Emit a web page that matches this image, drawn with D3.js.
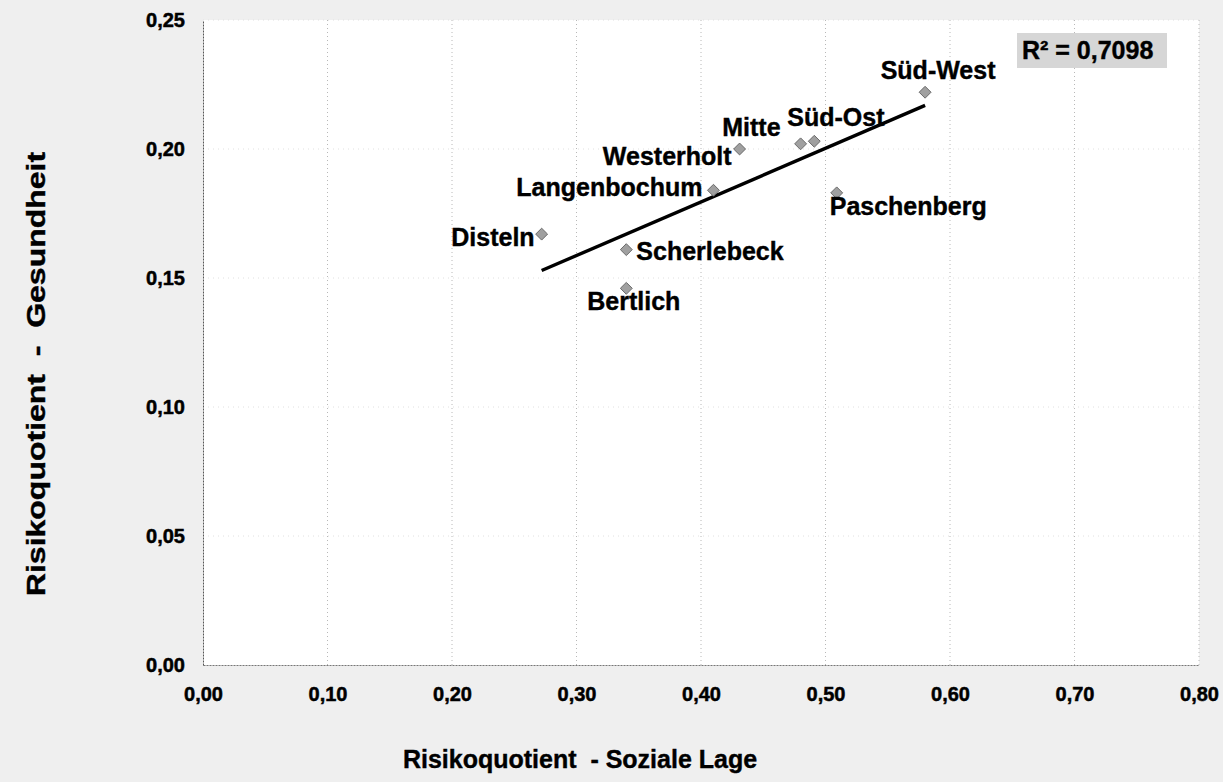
<!DOCTYPE html>
<html><head><meta charset="utf-8">
<script src="https://cdn.jsdelivr.net/npm/d3@7/dist/d3.min.js"></script>
<style>
html,body{margin:0;padding:0;background:#efefef;}
svg{display:block;font-family:"Liberation Sans",Arial,sans-serif;}
</style></head>
<body>
<svg id="chart" width="1223" height="782"></svg>
<script>
// ---- data ----
const names   = ["Disteln","Scherlebeck","Bertlich","Westerholt","Langenbochum","Mitte","Süd-Ost","Paschenberg","Süd-West"];
const xValues = [0.272, 0.340, 0.340, 0.431, 0.410, 0.480, 0.491, 0.509, 0.580];
const yValues = [0.167, 0.161, 0.146, 0.200, 0.184, 0.202, 0.203, 0.183, 0.222];
const xTicks  = [0,0.1,0.2,0.3,0.4,0.5,0.6,0.7,0.8];
const yTicks  = [0,0.05,0.10,0.15,0.20,0.25];
const rSquaredText = "R² = 0,7098";
const xTitle = "Risikoquotient  - Soziale Lage";
const yTitle = "Risikoquotient  -  Gesundheit";

// ---- layout ----
const svg = d3.select("#chart");
const L = 203, R = 1199, T = 20, B = 665;
const x = d3.scaleLinear().domain([0,0.8]).range([L,R]);
const y = d3.scaleLinear().domain([0,0.25]).range([B,T]);
const fmt = d3.format(".2f");
const comma = v => fmt(v).replace(".", ",");
const FONT = "'Liberation Sans',Arial,sans-serif";

svg.append("rect").attr("width",1223).attr("height",782).attr("fill","#efefef");
svg.append("rect").attr("x",L).attr("y",T).attr("width",R-L).attr("height",B-T).attr("fill","#ffffff");

// gridlines
svg.append("g").selectAll("line").data(xTicks.slice(1)).join("line")
  .attr("x1",d=>x(d)).attr("x2",d=>x(d)).attr("y1",T).attr("y2",B)
  .attr("stroke","#b8b8b8").attr("stroke-width",1).attr("stroke-dasharray","1,3");
svg.append("g").selectAll("line").data(yTicks.slice(1)).join("line")
  .attr("x1",L).attr("x2",R).attr("y1",d=>y(d)).attr("y2",d=>y(d))
  .attr("stroke","#e0e0e0").attr("stroke-width",1).attr("stroke-dasharray","1,4");

// axes
const xAxis = d3.axisBottom(x).tickValues(xTicks).tickFormat(comma).tickSize(0).tickPadding(22);
const gx = svg.append("g").attr("transform",`translate(0,${B})`).call(xAxis);
gx.select(".domain").attr("stroke","#777").attr("stroke-dasharray","2,1");
gx.selectAll("text").attr("font-size",20).attr("font-weight","bold").attr("fill","#000")
  .attr("stroke","#000").attr("stroke-width",0.5).attr("font-family",FONT);

const yAxis = d3.axisLeft(y).tickValues(yTicks).tickFormat(comma).tickSize(0).tickPadding(18);
const gy = svg.append("g").attr("transform",`translate(${L},0)`).call(yAxis);
gy.select(".domain").attr("stroke","#555").attr("stroke-dasharray","2,1");
gy.selectAll("text").attr("font-size",20).attr("font-weight","bold").attr("fill","#000")
  .attr("stroke","#000").attr("stroke-width",0.5).attr("font-family",FONT);

// regression line (least squares from data)
const n = xValues.length;
const mx = d3.mean(xValues), my = d3.mean(yValues);
let sxy = 0, sxx = 0;
for (let i=0;i<n;i++){ sxy += (xValues[i]-mx)*(yValues[i]-my); sxx += (xValues[i]-mx)**2; }
const slope = sxy/sxx, icpt = my - slope*mx;
const x0 = d3.min(xValues), x1 = d3.max(xValues);
svg.append("line")
  .attr("x1",x(x0)).attr("y1",y(icpt+slope*x0))
  .attr("x2",x(x1)).attr("y2",y(icpt+slope*x1))
  .attr("stroke","#000").attr("stroke-width",3.4);

// markers
const pts = names.map((nm,i)=>({name:nm,x:xValues[i],y:yValues[i]}));
svg.append("g").selectAll("path").data(pts).join("path")
  .attr("d", d3.symbol().type(d3.symbolDiamond2).size(90))
  .attr("transform", d=>`translate(${x(d.x)},${y(d.y)})`)
  .attr("fill","#a0a0a0").attr("stroke","#6a6a6a").attr("stroke-width",1);

// label placement (anchor, dx, dy) in px
const place = {
  "Süd-West":["middle",13,-13],
  "Mitte":["end",-20,-8],
  "Süd-Ost":["start",-27,-15],
  "Westerholt":["end",-8,16],
  "Langenbochum":["end",-11,6],
  "Paschenberg":["start",-7,22],
  "Disteln":["end",-7,12],
  "Scherlebeck":["start",10,10],
  "Bertlich":["start",-39,22]
};
svg.append("g").selectAll("text").data(pts).join("text")
  .attr("x",d=>x(d.x)+place[d.name][1]).attr("y",d=>y(d.y)+place[d.name][2])
  .attr("text-anchor",d=>place[d.name][0])
  .attr("font-size",25).attr("font-weight","bold").attr("fill","#000")
  .attr("stroke","#000").attr("stroke-width",0.4)
  .text(d=>d.name);

// R² box
svg.append("rect").attr("x",1017).attr("y",33).attr("width",150).attr("height",35).attr("fill","#d6d6d6");
svg.append("text").attr("x",1022).attr("y",59).attr("font-size",25).attr("font-weight","bold")
  .attr("fill","#000").attr("stroke","#000").attr("stroke-width",0.4).text(rSquaredText);

// axis titles
svg.append("text").attr("x",580).attr("y",768).attr("text-anchor","middle")
  .attr("font-size",25).attr("font-weight","bold").attr("fill","#000")
  .attr("stroke","#000").attr("stroke-width",0.4)
  .style("white-space","pre").text(xTitle);
svg.append("text").attr("transform","translate(45,374) rotate(-90) scale(1.28,1)").attr("text-anchor","middle")
  .attr("font-size",25).attr("font-weight","bold").attr("fill","#000")
  .attr("stroke","#000").attr("stroke-width",0.4)
  .style("white-space","pre").text(yTitle);
</script>
</body></html>
